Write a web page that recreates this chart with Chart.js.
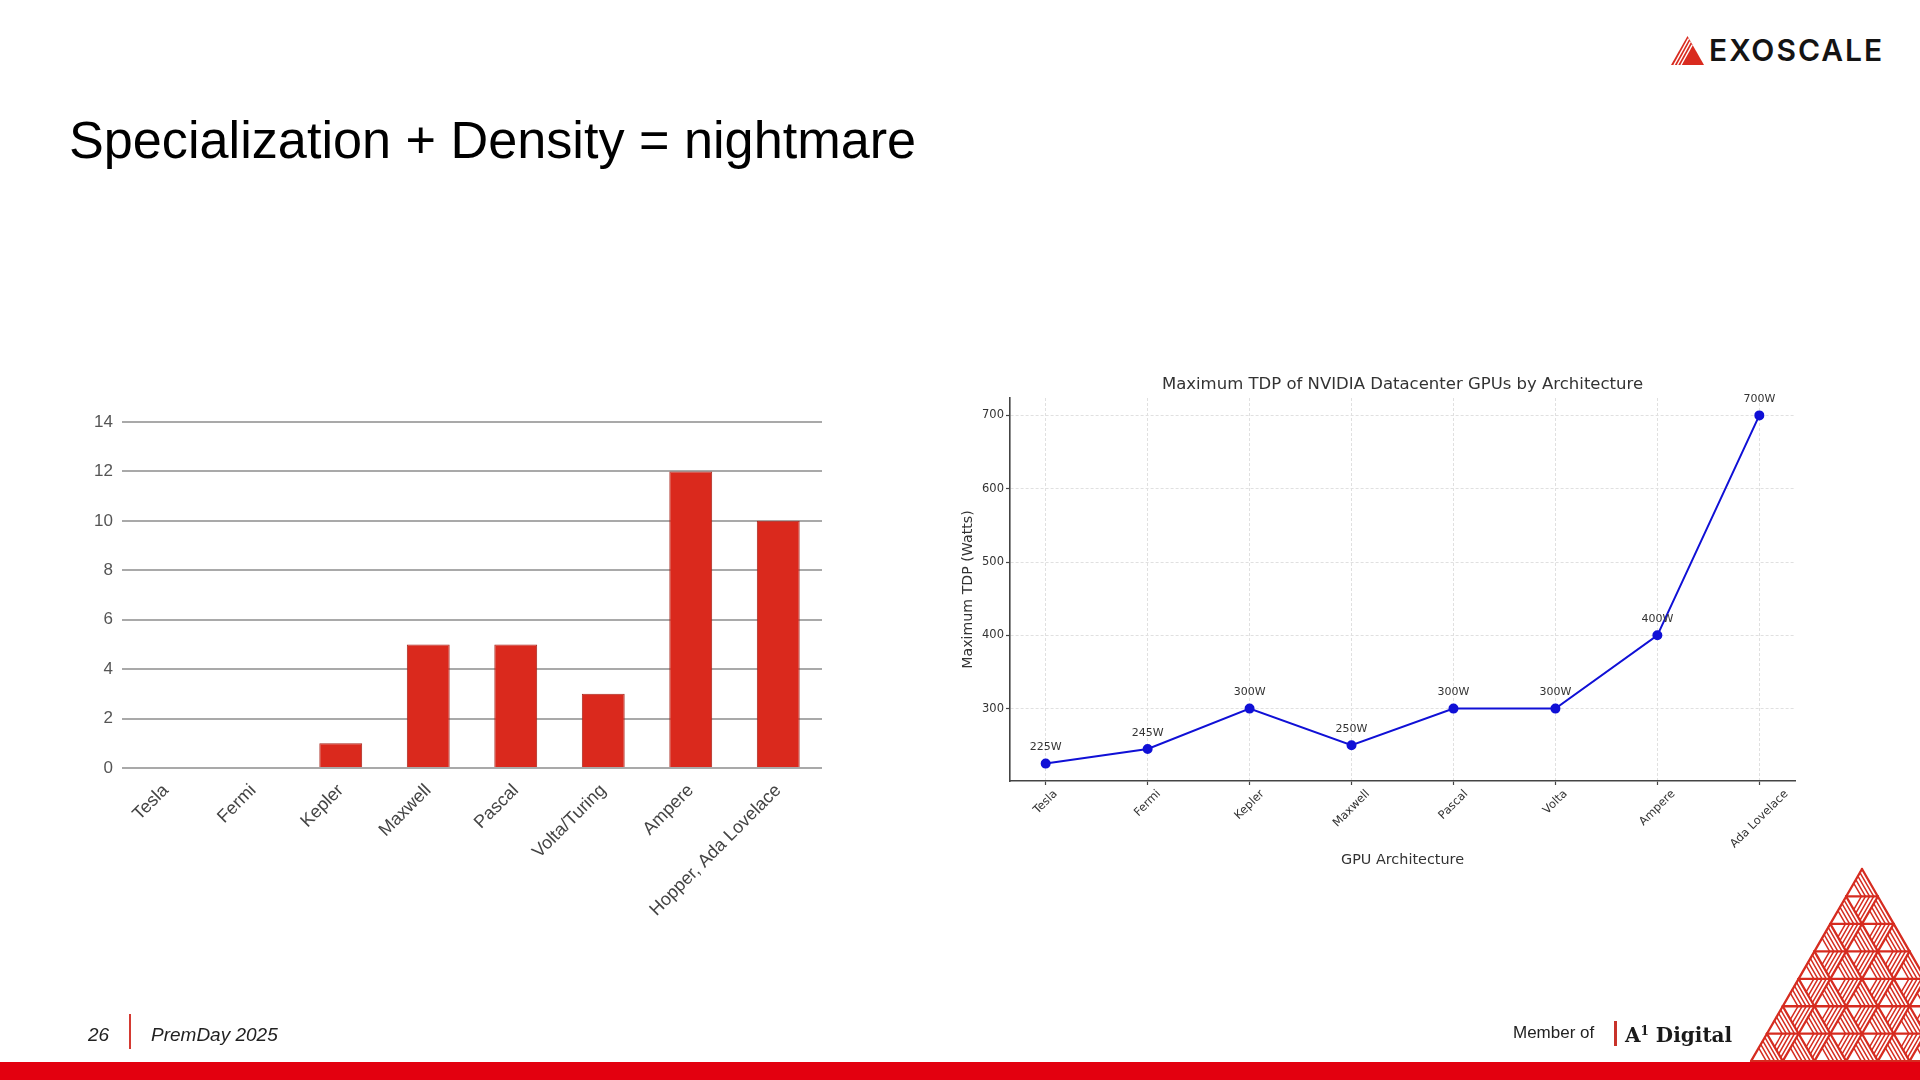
<!DOCTYPE html>
<html>
<head>
<meta charset="utf-8">
<title>Specialization + Density = nightmare</title>
<script src="https://cdn.jsdelivr.net/npm/chart.js@4.4.1/dist/chart.umd.min.js"></script>
<style>
  html, body { margin: 0; padding: 0; background: #fff; }
  body { width: 1920px; height: 1080px; position: relative; overflow: hidden;
         font-family: "Liberation Sans", Arial, sans-serif; color: #111; }
  .txt { position: absolute; line-height: 1; white-space: nowrap; }
  #title { left: 69px; top: 114px; font-size: 52.2px; color: #000; }
  #brand { left: 1709px; top: 35px; font-family: Inter, sans-serif; font-weight: 600;
           font-size: 30px; letter-spacing: 2px; color: #141414; }
  #logo { position: absolute; left: 1671px; top: 36px; }
  #barBox { position: absolute; left: 40px; top: 400px; width: 800px; height: 538px; }
  #lineBox { position: absolute; left: 940px; top: 360px; width: 925px; height: 509px; }
  #deco { position: absolute; left: 0; top: 0; }
  #footbar { position: absolute; left: 0; top: 1062px; width: 1920px; height: 18px; background: #e3000f; }
  #page { left: 88px; top: 1025px; font-size: 19px; font-style: italic; color: #222; }
  #sep { position: absolute; left: 129px; top: 1014px; width: 2px; height: 35px; background: #d43a32; }
  #event { left: 151px; top: 1025px; font-size: 19px; font-style: italic; color: #222; }
  #member { left: 1513px; top: 1024px; font-size: 17px; color: #222; }
  #msep { position: absolute; left: 1614px; top: 1021px; width: 3px; height: 25px; background: #c8322a; }
  #a1 { left: 1625px; top: 1025px; font-family: "DejaVu Serif", serif; font-weight: bold; font-size: 20px; color: #1a1a1a; }
  #a1 sup { font-size: 0.6em; vertical-align: 0.55em; line-height: 0; }
</style>
</head>
<body>
<svg id="logo" width="33" height="29" viewBox="0 0 33 29">
  <polygon points="16.5,0 33,29 0,29" fill="#d92b1f"/>
  <line x1="3" y1="29" x2="17.6" y2="2.6" stroke="#fff" stroke-width="1.4"/>
  <line x1="6.5" y1="29" x2="19.4" y2="5.7" stroke="#fff" stroke-width="1.4"/>
  <line x1="10" y1="29" x2="21.2" y2="8.8" stroke="#fff" stroke-width="1.4"/>
</svg>
<div id="brand" class="txt">EXOSCALE</div>
<div id="title" class="txt">Specialization + Density = nightmare</div>

<div id="barBox"><canvas id="barChart"></canvas></div>
<div id="lineBox"><canvas id="tdpChart"></canvas></div>

<svg id="deco" width="1920" height="1080"></svg>
<div id="footbar"></div>
<div id="page" class="txt">26</div>
<div id="sep"></div>
<div id="event" class="txt">PremDay 2025</div>
<div id="member" class="txt">Member of</div>
<div id="msep"></div>
<div id="a1" class="txt">A<sup>1</sup> Digital</div>

<script>
// left chart: count per architecture
const barCategories = ['Tesla', 'Fermi', 'Kepler', 'Maxwell', 'Pascal', 'Volta/Turing', 'Ampere', 'Hopper, Ada Lovelace'];
const barValues = [0, 0, 1, 5, 5, 3, 12, 10];
const barTicks = [0, 2, 4, 6, 8, 10, 12, 14];

// right chart: max TDP per architecture
const tdpTitle = 'Maximum TDP of NVIDIA Datacenter GPUs by Architecture';
const tdpCategories = ['Tesla', 'Fermi', 'Kepler', 'Maxwell', 'Pascal', 'Volta', 'Ampere', 'Ada Lovelace'];
const tdpWatts = [225, 245, 300, 250, 300, 300, 400, 700];
const tdpTicks = [300, 400, 500, 600, 700];

const BLUE = '#1010d6';
const RED = '#da291d';
const MPL = '"DejaVu Sans", sans-serif';

Chart.defaults.font.family = '"Liberation Sans", Arial, sans-serif';
Chart.defaults.animation = false;

new Chart(document.getElementById('barChart'), {
  type: 'bar',
  data: {
    labels: barCategories,
    datasets: [{
      data: barValues,
      backgroundColor: RED,
      borderColor: '#a8261c',
      borderWidth: 1,
      barPercentage: 0.49,
      categoryPercentage: 1
    }]
  },
  options: {
    responsive: true, maintainAspectRatio: false,
    layout: { padding: { top: 22, right: 18, left: 0, bottom: 0 } },
    plugins: { legend: { display: false }, tooltip: { enabled: false } },
    scales: {
      x: {
        grid: { display: false, drawTicks: false },
        border: { display: false },
        ticks: { color: '#444', font: { size: 18 }, minRotation: 45, maxRotation: 45, autoSkip: false, padding: 12 },
        afterFit: s => { s.height = 170; }
      },
      y: {
        min: 0, max: 14,
        afterBuildTicks: s => { s.ticks = barTicks.map(v => ({ value: v })); },
        grid: { color: '#a9a9a9', lineWidth: 2, drawTicks: false },
        border: { display: false },
        ticks: { color: '#555', font: { size: 17 }, padding: 9 },
        afterFit: s => { s.width = 82; }
      }
    }
  }
});

// matplotlib-like extras: point labels, centred 45° tick labels, axes title
const tdpDecor = {
  id: 'tdpDecor',
  afterDraw(chart) {
    const { ctx, chartArea } = chart;
    const xs = chart.scales.x;
    const meta = chart.getDatasetMeta(0);
    ctx.save();
    ctx.fillStyle = '#333';

    ctx.font = '11px ' + MPL;
    ctx.textAlign = 'center';
    ctx.textBaseline = 'middle';
    meta.data.forEach((pt, i) => ctx.fillText(tdpWatts[i] + 'W', pt.x, pt.y - 16));

    // rotation 45, ha=center, va=top
    const fs = 11.5;
    ctx.font = fs + 'px ' + MPL;
    ctx.textAlign = 'right';
    const k = Math.SQRT1_2 / 2;
    tdpCategories.forEach((name, i) => {
      const w = ctx.measureText(name).width;
      ctx.save();
      ctx.translate(xs.getPixelForValue(i) + k * w, chartArea.bottom + 7 + k * fs);
      ctx.rotate(-Math.PI / 4);
      ctx.fillText(name, 0, 0);
      ctx.restore();
    });

    ctx.font = '16.5px ' + MPL;
    ctx.textAlign = 'center';
    ctx.fillText(tdpTitle, (chartArea.left + chartArea.right) / 2, chartArea.top - 13.5);
    ctx.restore();
  }
};

const tdpSpan = Math.max(...tdpWatts) - Math.min(...tdpWatts);
const mplFont = size => ({ family: MPL, size, weight: 'normal' });
const mplGrid = { color: '#e0e0e0', lineWidth: 1, tickLength: 4, tickColor: '#444', tickWidth: 1.2, tickBorderDash: [] };
const mplBorder = { color: '#444', width: 1.6, dash: [3, 2] };

new Chart(document.getElementById('tdpChart'), {
  type: 'line',
  data: {
    datasets: [{
      data: tdpWatts.map((w, i) => ({ x: i, y: w })),
      borderColor: BLUE,
      backgroundColor: BLUE,
      borderWidth: 2,
      pointRadius: 4,
      pointHoverRadius: 4,
      tension: 0,
      clip: false
    }]
  },
  plugins: [tdpDecor],
  options: {
    responsive: true, maintainAspectRatio: false,
    layout: { padding: { top: 38, right: 70, left: 0, bottom: 0 } },
    plugins: { legend: { display: false }, tooltip: { enabled: false } },
    scales: {
      x: {
        type: 'linear', bounds: 'data',
        min: -0.35, max: tdpCategories.length - 1 + 0.35,
        afterBuildTicks: s => { s.ticks = tdpCategories.map((_, i) => ({ value: i })); },
        grid: mplGrid,
        border: mplBorder,
        ticks: { display: false },
        title: { display: true, text: 'GPU Architecture', color: '#333', font: mplFont(14.4), padding: { top: 0, bottom: 0 } },
        afterFit: s => { s.height = 88; }
      },
      y: {
        bounds: 'data',
        min: Math.min(...tdpWatts) - 0.05 * tdpSpan,
        max: Math.max(...tdpWatts) + 0.05 * tdpSpan,
        afterBuildTicks: s => { s.ticks = tdpTicks.map(v => ({ value: v })); },
        grid: mplGrid,
        border: mplBorder,
        ticks: { color: '#333', font: mplFont(11.5), padding: 2 },
        title: { display: true, text: 'Maximum TDP (Watts)', color: '#333', font: mplFont(14.2), padding: { top: 20, bottom: 0 } },
        afterFit: s => { s.width = 70; }
      }
    }
  }
});

// hatched triangle ornament, bottom right
(function drawOrnament() {
  const svg = document.getElementById('deco');
  const NS = 'http://www.w3.org/2000/svg';
  const apexX = 1862, apexY = 869, rows = 7, h = 27.45;
  const s = 2 * h / Math.sqrt(3);
  const col = '#d62c20';
  const line = (x1, y1, x2, y2, w) => {
    const l = document.createElementNS(NS, 'line');
    l.setAttribute('x1', x1); l.setAttribute('y1', y1);
    l.setAttribute('x2', x2); l.setAttribute('y2', y2);
    l.setAttribute('stroke', col); l.setAttribute('stroke-width', w);
    l.setAttribute('stroke-linecap', 'round');
    svg.appendChild(l);
  };
  const hatch = [0.13, 0.26, 0.39, 0.52];
  for (let r = 0; r < rows; r++) {
    const y = apexY + r * h;
    for (let k = 0; k <= r; k++) {
      const ax = apexX + (k - r / 2) * s;
      const A = [ax, y], B = [ax - s / 2, y + h], C = [ax + s / 2, y + h];
      hatch.forEach(t => line(A[0] + t * (B[0] - A[0]), A[1] + t * (B[1] - A[1]),
                              C[0] + t * (B[0] - C[0]), C[1] + t * (B[1] - C[1]), 1.5));
      line(A[0], A[1], B[0], B[1], 2.3);
      line(B[0], B[1], C[0], C[1], 2.3);
      line(C[0], C[1], A[0], A[1], 2.3);
    }
    for (let k = 0; k < r; k++) {
      const D = [apexX + (k - r / 2) * s, y], E = [apexX + (k + 1 - r / 2) * s, y];
      const F = [apexX + (k + 0.5 - r / 2) * s, y + h];
      hatch.forEach(t => line(E[0] + t * (D[0] - E[0]), E[1] + t * (D[1] - E[1]),
                              F[0] + t * (D[0] - F[0]), F[1] + t * (D[1] - F[1]), 1.5));
    }
  }
})();
</script>
</body>
</html>
